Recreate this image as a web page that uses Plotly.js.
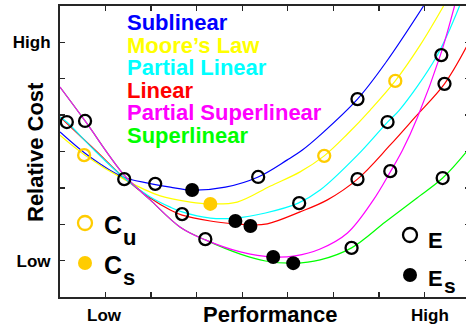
<!DOCTYPE html>
<html><head><meta charset="utf-8">
<script src="https://cdn.plot.ly/plotly-3.0.1.min.js"></script>
<style>html,body{margin:0;padding:0;overflow:hidden;background:#fff}#chart{width:470px;height:328px}</style>
</head><body><div id="chart"></div>
<script>
// Curve data (performance, relative cost)
const sublinearX = [0, 0.66, 1.38, 1.93, 2.42, 2.90, 3.63, 4.35, 4.99, 5.32, 5.71, 6.53, 7.16, 7.98];
const sublinearY = [4.54, 3.85, 3.30, 3.13, 3.02, 2.94, 3.02, 3.30, 3.77, 4.04, 4.45, 5.44, 6.46, 8.00];
const mooreX = [0, 0.55, 1.43, 2.20, 2.86, 3.30, 3.89, 4.62, 5.27, 5.80, 6.31, 6.81, 7.36, 7.91, 8.42];
const mooreY = [4.45, 3.90, 3.22, 2.78, 2.61, 2.56, 2.61, 3.05, 3.44, 3.88, 4.48, 5.14, 5.94, 6.93, 8.00];
const partLinX = [0, 0.15, 0.75, 1.41, 1.98, 2.42, 2.68, 3.30, 3.85, 4.51, 5.23, 5.71, 6.53, 7.19, 7.45, 8.26, 8.77];
const partLinY = [4.95, 4.81, 4.04, 3.27, 2.75, 2.47, 2.34, 2.17, 2.17, 2.31, 2.58, 2.94, 3.90, 4.81, 5.14, 6.60, 8.00];
const linearX = [0, 0.77, 1.41, 1.98, 2.42, 2.68, 3.30, 3.85, 4.20, 4.55, 5.27, 5.87, 6.53, 7.25, 7.80, 8.44, 8.92];
const linearY = [4.95, 4.04, 3.27, 2.72, 2.39, 2.25, 2.09, 2.01, 1.98, 2.01, 2.34, 2.67, 3.24, 4.18, 4.95, 5.86, 6.87];
const partSupX = [0, 0.55, 1.41, 1.98, 2.64, 3.19, 3.96, 4.68, 5.16, 5.71, 6.31, 6.88, 7.25, 7.52, 7.85, 8.35, 8.66];
const partSupY = [5.77, 4.84, 3.35, 2.67, 1.92, 1.57, 1.24, 1.10, 1.13, 1.32, 1.76, 2.67, 3.44, 4.04, 4.95, 6.65, 8.00];
const superX = [0, 0.55, 1.41, 1.98, 2.64, 3.19, 3.96, 4.51, 5.14, 5.71, 6.40, 7.14, 7.80, 8.40, 8.92];
const superY = [5.77, 4.84, 3.35, 2.67, 1.92, 1.57, 1.18, 0.99, 0.93, 1.02, 1.35, 2.06, 2.69, 3.27, 3.99];

// Marker data
const eX = [0.15, 0.55, 1.41, 2.09, 2.68, 3.19, 4.35, 5.25, 6.53, 6.53, 7.19, 7.25, 8.37, 8.44, 8.40, 6.40];
const eY = [4.81, 4.84, 3.24, 3.11, 2.28, 1.59, 3.30, 2.58, 5.44, 3.24, 4.81, 3.46, 6.65, 5.86, 3.27, 1.35];
const esX = [2.90, 3.85, 4.18, 4.68, 5.12];
const esY = [2.94, 2.09, 1.95, 1.10, 0.93];
const cuX = [0.53, 5.80, 7.36];
const cuY = [3.90, 3.88, 5.94];
const csX = [3.30];
const csY = [2.56];

const seriesNames = ['Sublinear', 'Moore’s Law', 'Partial Linear', 'Linear', 'Partial Superlinear', 'Superlinear'];
const seriesColors = ['#0000FF', '#FFFF00', '#00FFFF', '#FF0000', '#FF00FF', '#00FF00'];
const yTickText = ['', 'Low', '', '', '', '', '', 'High', ''];
const xTickText = ['Low', 'High'];

const W = 470, H = 328, ML = 60, MR = 0, MT = 6, MB = 31;
const px = x => (x - ML) / (W - ML - MR);
const py = y => (H - MB - y) / (H - MT - MB);
const FONT = 'Liberation Sans, Arial, Helvetica, sans-serif';
const ORANGE = '#FFCC00';

function line(x, y, i) {
  return {x: x, y: y, mode: 'lines', type: 'scatter', name: seriesNames[i],
    line: {color: seriesColors[i], width: 1.2, shape: 'spline', smoothing: 1}, hoverinfo: 'skip'};
}
const traces = [
  line(sublinearX, sublinearY, 0),
  line(mooreX, mooreY, 1),
  line(linearX, linearY, 3),
  line(partLinX, partLinY, 2),
  line(superX, superY, 5),
  line(partSupX, partSupY, 4),
  {x: eX, y: eY, mode: 'markers', type: 'scatter', name: 'E',
    marker: {symbol: 'circle-open', size: 12, color: '#000', line: {width: 2.3}}},
  {x: esX, y: esY, mode: 'markers', type: 'scatter', name: 'Es',
    marker: {symbol: 'circle', size: 14, color: '#000'}},
  {x: cuX, y: cuY, mode: 'markers', type: 'scatter', name: 'Cu',
    marker: {symbol: 'circle-open', size: 12, color: ORANGE, line: {width: 2.3}}},
  {x: csX, y: csY, mode: 'markers', type: 'scatter', name: 'Cs',
    marker: {symbol: 'circle', size: 14, color: ORANGE}}
];

// key markers (drawn in paper space via shapes)
const shapes = [];
function keyCircle(cx, cy, filled, color) {
  const r = 7;
  shapes.push({type: 'circle', xref: 'paper', yref: 'paper',
    x0: px(cx - r), x1: px(cx + r), y0: py(cy + r), y1: py(cy - r),
    line: {color: color, width: filled ? 0 : 2.3}, fillcolor: filled ? color : 'rgba(0,0,0,0)'});
}
keyCircle(85, 223, false, ORANGE);
keyCircle(85, 263, true, ORANGE);
keyCircle(410, 235, false, '#000');
keyCircle(410, 275, true, '#000');

const ann = [];
function txt(text, x, y, size, color, extra) {
  ann.push(Object.assign({text: text, xref: 'paper', yref: 'paper', x: px(x), y: py(y),
    xanchor: 'left', yanchor: 'middle', showarrow: false,
    font: {family: FONT, size: size, color: color, weight: 'bold'}}, extra || {}));
}
// series key as one multi-line text (line pitch set by base font size)
const legText = seriesNames.map((n, i) =>
  '<span style="color:' + seriesColors[i] + ';font-size:22px">' + n + '</span>').join('<br>');
txt(legText, 125, 8, 17.4, '#000', {yanchor: 'top', align: 'left'});
txt('C', 102, 225, 25, '#000');
txt('u', 121, 237, 22, '#000');
txt('C', 102, 265, 25, '#000');
txt('s', 121, 277, 22, '#000');
txt('E', 426, 240, 22, '#000');
txt('E', 426, 278, 22, '#000');
txt('s', 442, 285, 21, '#000');
txt('Relative Cost', 35, 152, 22, '#000', {textangle: -90, xanchor: 'center'});
txt('Performance', 270, 314, 22, '#000', {xanchor: 'center'});
txt(xTickText[0], 104, 315, 17, '#000', {xanchor: 'center'});
txt(xTickText[1], 430, 315, 17, '#000', {xanchor: 'center'});

const axisCommon = {showline: true, linecolor: '#262626', linewidth: 2, mirror: 'ticks',
  ticks: 'inside', ticklen: 5, tickwidth: 1.3, tickcolor: '#262626', showgrid: false, zeroline: false,
  fixedrange: true};
const layout = {
  width: W, height: H, margin: {l: ML, r: MR, t: MT, b: MB},
  paper_bgcolor: '#fff', plot_bgcolor: '#fff', showlegend: false,
  xaxis: Object.assign({}, axisCommon, {range: [0, 9], tickvals: [0,1,2,3,4,5,6,7,8,9], showticklabels: false}),
  yaxis: Object.assign({}, axisCommon, {range: [0, 8], tickvals: [0,1,2,3,4,5,6,7,8], ticktext: yTickText,
    ticklabelstandoff: 4, tickfont: {family: FONT, size: 17, color: '#000', weight: 'bold'}}),
  shapes: shapes, annotations: ann
};
Plotly.newPlot('chart', traces, layout, {displayModeBar: false, staticPlot: true});
</script></body></html>
